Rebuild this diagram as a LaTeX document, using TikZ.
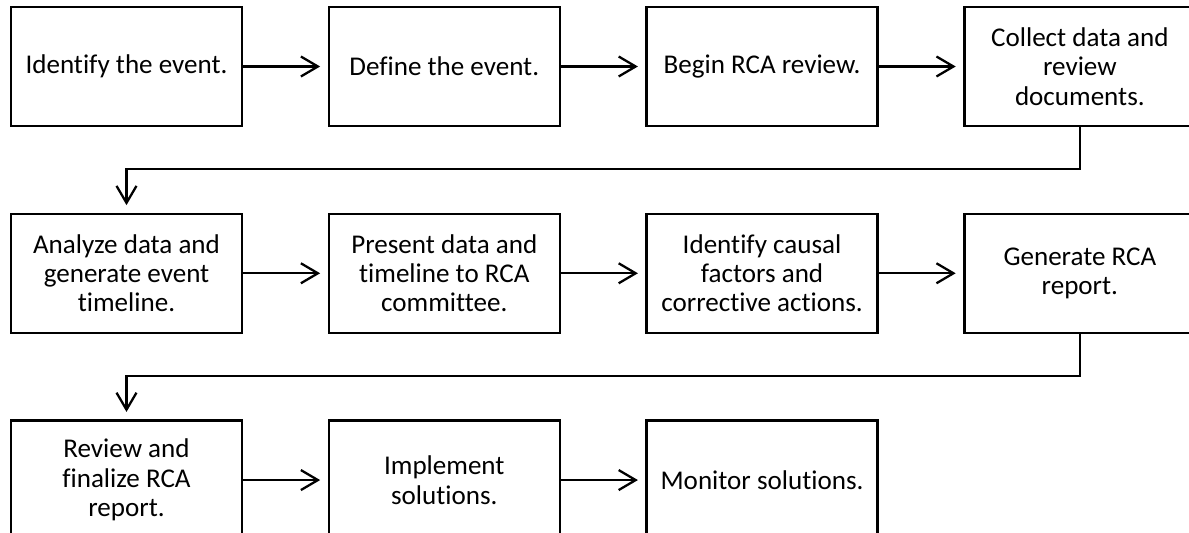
\documentclass[tikz,border=0pt]{standalone}
\usepackage{fontspec}
\setmainfont{Carlito}[Ligatures={NoCommon,NoContextual}]
\usetikzlibrary{arrows.meta,positioning}

\begin{document}
\begin{tikzpicture}[>={Straight Barb[length=3.4mm,width=4mm]}, node distance=17.1mm and 16.9mm, every node/.style={font=\fontsize{15.4}{16.7}\selectfont}, box/.style={draw=black,line width=1.3pt,minimum width=46.2mm,minimum height=23.8mm,align=center,inner sep=3pt}, line/.style={->,line width=1.3pt,shorten >=1.5mm}]
\path[use as bounding box,fill=white] (-2.53,1.33) rectangle (21.25,-9.33);
% first row
\node[box] (identify) at (0,0) {Identify the event.};
\node[box,right=of identify] (define) {Define the event.};
\node[box,right=of define] (begin) {Begin RCA review.};
\node[box,right=of begin] (collect) {Collect data and\\review\\documents.};
% second row
\node[box,below=of identify] (analyze) {Analyze data and\\generate event\\timeline.};
\node[box,right=of analyze] (present) {Present data and\\timeline to RCA\\committee.};
\node[box,right=of present] (causal) {Identify causal\\factors and\\corrective actions.};
\node[box,right=of causal] (generate) {Generate RCA\\report.};
% third row
\node[box,below=of analyze] (finalize) {Review and\\finalize RCA\\report.};
\node[box,right=of finalize] (implement) {Implement\\solutions.};
\node[box,right=of implement] (monitor) {Monitor solutions.};
\draw[line] (identify)--(define); \draw[line] (define)--(begin); \draw[line] (begin)--(collect);
\draw[line] (collect.south) -- ++(0,-8.4mm) -| (analyze.north);
\draw[line] (analyze)--(present); \draw[line] (present)--(causal); \draw[line] (causal)--(generate);
\draw[line] (generate.south) -- ++(0,-8.4mm) -| (finalize.north);
\draw[line] (finalize)--(implement); \draw[line] (implement)--(monitor);
\end{tikzpicture}
\end{document}
